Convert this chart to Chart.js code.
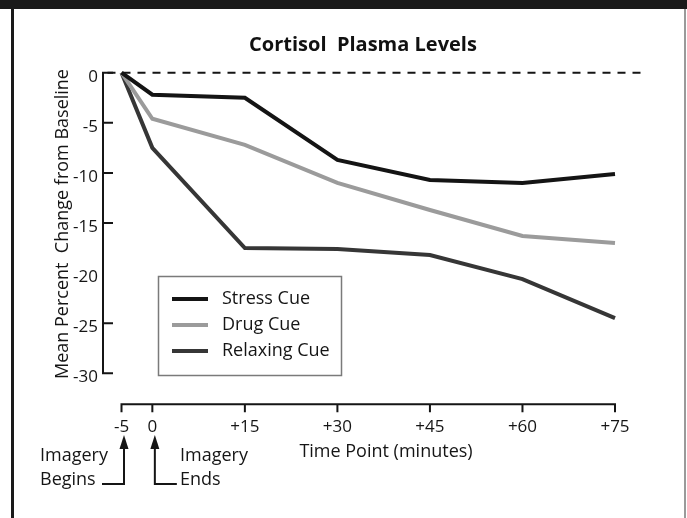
<!DOCTYPE html>
<html>
<head>
<meta charset="utf-8">
<script src="https://cdn.jsdelivr.net/npm/chart.js@4.4.1/dist/chart.umd.min.js"></script>
<style>
  html, body { margin:0; padding:0; background:#fff; }
  canvas { display:block; }
</style>
</head>
<body>
<canvas id="myChartCortisol" width="687" height="518"></canvas>
<script>
// values
const timePoints = [-5, 0, 15, 30, 45, 60, 75];
const stressCue = [0, -2.2, -2.5, -8.7, -10.7, -11.0, -10.1];
const drugCue = [0, -4.6, -7.2, -11.0, -13.7, -16.3, -17.0];
const relaxingCue = [0, -7.5, -17.5, -17.6, -18.2, -20.6, -24.5];

const seriesNames = ['Stress Cue', 'Drug Cue', 'Relaxing Cue'];
const seriesColors = ['#141414', '#9b9b9b', '#363636'];

const yTicks = [0, -5, -10, -15, -20, -25, -30];
const yTickMarks = [0, -5, -10, -15, -25, -30]; // no mark at -20 in the original
const xTicks = [-5, 0, 15, 30, 45, 60, 75];
const xTickLabels = ['-5', '0', '+15', '+30', '+45', '+60', '+75'];

const FONT = '"Open Sans", "Noto Sans", sans-serif';
const INK = '#151515';

function toPoints(values){
  return timePoints.map((t, i) => ({ x: t, y: values[i] }));
}

const data = {
  datasets: [stressCue, drugCue, relaxingCue].map((vals, i) => ({
    label: seriesNames[i],
    data: toPoints(vals),
    borderColor: seriesColors[i],
    borderWidth: 4,
    pointRadius: 0,
    tension: 0,
    clip: false,
    borderJoinStyle: 'miter',
    borderCapStyle: 'butt'
  }))
};

function arrow(ctx, x, tipY, endY, hookX){
  ctx.beginPath();
  ctx.moveTo(x, tipY);
  ctx.lineTo(x - 4.5, tipY + 14);
  ctx.lineTo(x + 4.5, tipY + 14);
  ctx.closePath();
  ctx.fill();
  ctx.beginPath();
  ctx.moveTo(x, tipY + 12);
  ctx.lineTo(x, endY);
  ctx.lineTo(hookX, endY);
  ctx.stroke();
}

// frame, dashed baseline, hand-styled axes, legend and notes
const figureDecor = {
  id: 'figureDecor',
  beforeDraw(chart){
    const { ctx } = chart;
    ctx.save();
    ctx.fillStyle = '#fff';
    ctx.fillRect(0, 0, chart.width, chart.height);
    ctx.fillStyle = '#1a1a1a';
    ctx.fillRect(0, 0, chart.width, 9);
    ctx.fillRect(11, 9, 3, chart.height - 9);
    ctx.fillStyle = '#9a9a9a';
    ctx.fillRect(chart.width - 3, 9, 2, chart.height - 9);
    ctx.restore();
  },
  beforeDatasetsDraw(chart){
    const { ctx, chartArea, scales: { y } } = chart;
    const y0 = y.getPixelForValue(0);
    ctx.save();
    ctx.strokeStyle = INK;
    ctx.lineWidth = 2;
    ctx.setLineDash([8, 7]);
    ctx.beginPath();
    ctx.moveTo(chartArea.left - 14, y0);
    ctx.lineTo(chartArea.right + 28, y0);
    ctx.stroke();
    ctx.restore();
  },
  afterDraw(chart){
    const { ctx, chartArea, scales: { x, y } } = chart;
    ctx.save();
    ctx.strokeStyle = INK;
    ctx.fillStyle = INK;
    ctx.lineWidth = 2;

    // y axis, ticks pointing inward
    const ax = chartArea.left - 18.5;
    ctx.beginPath();
    ctx.moveTo(ax, y.getPixelForValue(0));
    ctx.lineTo(ax, y.getPixelForValue(-30));
    yTickMarks.forEach(v => {
      const py = y.getPixelForValue(v);
      ctx.moveTo(ax - 1, py);
      ctx.lineTo(ax + 10, py);
    });
    ctx.stroke();
    ctx.font = '17px ' + FONT;
    ctx.textAlign = 'right';
    ctx.textBaseline = 'middle';
    yTicks.forEach(v => {
      ctx.fillText(String(v), ax - 5, y.getPixelForValue(v) + 4);
    });

    // x axis, set below the plot
    const ay = y.getPixelForValue(-30) + 31;
    ctx.beginPath();
    ctx.moveTo(x.getPixelForValue(-5), ay);
    ctx.lineTo(x.getPixelForValue(75), ay);
    xTicks.forEach(v => {
      const px = x.getPixelForValue(v);
      ctx.moveTo(px, ay - 1);
      ctx.lineTo(px, ay + 8);
    });
    ctx.stroke();
    ctx.textAlign = 'center';
    ctx.font = '17px ' + FONT;
    xTicks.forEach((v, i) => {
      ctx.fillText(xTickLabels[i], x.getPixelForValue(v), ay + 23);
    });

    // axis titles
    ctx.font = '18px ' + FONT;
    ctx.fillText('Time Point (minutes)', 386, 452);
    ctx.save();
    ctx.translate(63, 224);
    ctx.rotate(-Math.PI / 2);
    ctx.fillText('Mean Percent  Change from Baseline', 0, 0);
    ctx.restore();

    // chart title
    ctx.font = 'bold 20px ' + FONT;
    ctx.fillStyle = '#111';
    ctx.fillText('Cortisol  Plasma Levels', 363, 45);
    ctx.fillStyle = INK;

    // imagery notes
    ctx.font = '18px ' + FONT;
    ctx.textAlign = 'left';
    const xb = x.getPixelForValue(-5) + 2.5;
    const xe = x.getPixelForValue(0) + 2.5;
    arrow(ctx, xb, 435, 484, xb - 22);
    arrow(ctx, xe, 435, 484, xe + 22);
    ctx.fillText('Imagery', 40, 456);
    ctx.fillText('Begins', 40, 480);
    ctx.fillText('Imagery', 180, 456);
    ctx.fillText('Ends', 180, 480);

    // legend box
    ctx.strokeStyle = '#7a7a7a';
    ctx.lineWidth = 1.5;
    ctx.strokeRect(158.5, 276.5, 183, 99);
    ctx.font = '18px ' + FONT;
    chart.data.datasets.forEach((ds, i) => {
      const ly = 299 + i * 26;
      ctx.strokeStyle = ds.borderColor;
      ctx.lineWidth = 4;
      ctx.beginPath();
      ctx.moveTo(172, ly);
      ctx.lineTo(208, ly);
      ctx.stroke();
      ctx.fillStyle = INK;
      ctx.textBaseline = 'middle';
      ctx.fillText(ds.label, 222, ly);
    });
    ctx.restore();
  }
};

const config = {
  type: 'line',
  data,
  options: {
    responsive: false,
    animation: false,
    events: [],
    layout: { padding: { left: 121.5, right: 72, top: 72.7, bottom: 144.7 } },
    scales: {
      x: { type: 'linear', min: -5, max: 75, display: false },
      y: { type: 'linear', min: -30, max: 0, display: false }
    },
    plugins: {
      legend: { display: false },
      tooltip: { enabled: false }
    }
  },
  plugins: [figureDecor]
};

const cortisol = new Chart(document.getElementById('myChartCortisol'), config);
</script>
</body>
</html>
